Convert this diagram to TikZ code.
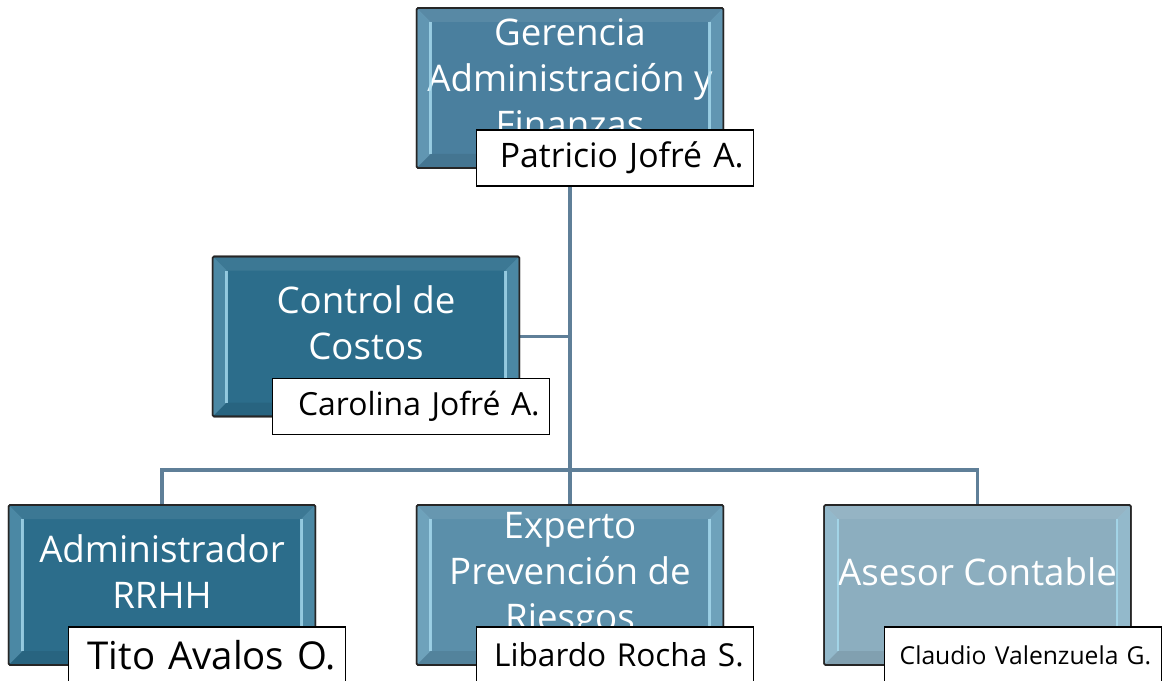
\documentclass[tikz,border=0pt]{standalone}
\usepackage{fontspec}
\setmainfont{Open Sans}
\usetikzlibrary{calc,backgrounds}

\definecolor{gafblue}{HTML}{4A7F9E}
\definecolor{darkblue}{HTML}{2C6D8B}
\definecolor{midblue}{HTML}{5B8FAA}
\definecolor{paleblue}{HTML}{8CAEBF}
\definecolor{linkgray}{HTML}{5F7F98}
\definecolor{bevlight}{HTML}{A8DCF0}

\tikzset{
    unit/.style={draw=black!85, line width=1.2pt, rounded corners=1pt,
        outer sep=0pt, minimum width=230pt, minimum height=120pt},
    title/.style={text=white, align=center, yshift=10pt,
        font=\fontsize{27.5}{34.5}\selectfont},
    longtitle/.style={title, yshift=-3pt},
    namebox/.style={draw=black, line width=1pt, fill=white, outer sep=0pt,
        anchor=north west, minimum height=42pt, text width=192.75pt,
        inner xsep=7.5pt, align=right},
    link/.style={draw=linkgray, line width=2.6pt},
}

% light side strips of a unit box
\newcommand{\bevel}[1]{%
    \fill[bevlight, opacity=.25] (#1.north west) -- ($(#1.north west)+(14,14)$)
        -- ($(#1.south west)+(14,-14)$) -- (#1.south west) -- cycle;
    \fill[bevlight, opacity=.25] (#1.north east) -- ($(#1.north east)+(-14,14)$)
        -- ($(#1.south east)+(-14,-14)$) -- (#1.south east) -- cycle;
    \fill[white, opacity=.08] (#1.north west) -- ($(#1.north west)+(14,14)$)
        -- ($(#1.north east)+(-14,14)$) -- (#1.north east) -- cycle;
    \fill[black, opacity=.08] (#1.south west) -- ($(#1.south west)+(14,-14)$)
        -- ($(#1.south east)+(-14,-14)$) -- (#1.south east) -- cycle;
    \draw[bevlight, line width=1.8pt, opacity=.8]
        ($(#1.north west)+(14,14)$) -- ($(#1.south west)+(14,-14)$);
    \draw[bevlight, line width=1.8pt, opacity=.8]
        ($(#1.north east)+(-14,14)$) -- ($(#1.south east)+(-14,-14)$);
    \draw[black!85, line width=1.2pt, rounded corners=1pt]
        (#1.north west) rectangle (#1.south east);}

\begin{document}
\begin{tikzpicture}[x=0.75pt, y=-0.75pt]
    \useasboundingbox (0, 0) rectangle (1166, 681);
    \clip (0, 0) rectangle (1166, 681);

    \node[unit, fill=gafblue,
        label={[longtitle]center:{Gerencia\\Administración y\\Finanzas}}]
        (gaf) at (570, 88) {};
    \bevel{gaf}
    \node[unit, fill=darkblue, label={[title]center:{Control de\\Costos}}]
        (costos) at (366, 336.5) {};
    \bevel{costos}
    \foreach \id/\x/\col/\lo/\txt in
        {rrhh/162/darkblue/title/{Administrador\\RRHH},
         prev/570/midblue/longtitle/{Experto\\Prevención de\\Riesgos},
         contable/977.5/paleblue/title/{Asesor Contable}}{
        \node[unit, fill=\col, label={[\lo]center:\txt}] (\id) at (\x, 585) {};
        \bevel{\id}
    };

    \coordinate (bus) at (570, 470);

    \foreach \id/\fs/\who in
        {gaf/25.3/{Patricio Jofré A.}, costos/23.9/{Carolina Jofré A.},
         rrhh/28.8/{Tito Avalos O.}, prev/23.7/{Libardo Rocha S.},
         contable/18.5/{Claudio Valenzuela G.}}{
        \node[namebox, font=\fontsize{\fs}{\fs}\selectfont] (\id name)
            at ($(\id.south west) + (60, -38)$) {\who};
    };

    \begin{scope}[on background layer]
        \draw[link] (gaf.south) -- (bus);
        \draw[link] (costos.east) -- (costos.east -| gaf.south);
        \draw[link] (rrhh.north) |- (bus) -| (contable.north);
        \draw[link] (bus) -- (prev.north);
    \end{scope}
\end{tikzpicture}
\end{document}
